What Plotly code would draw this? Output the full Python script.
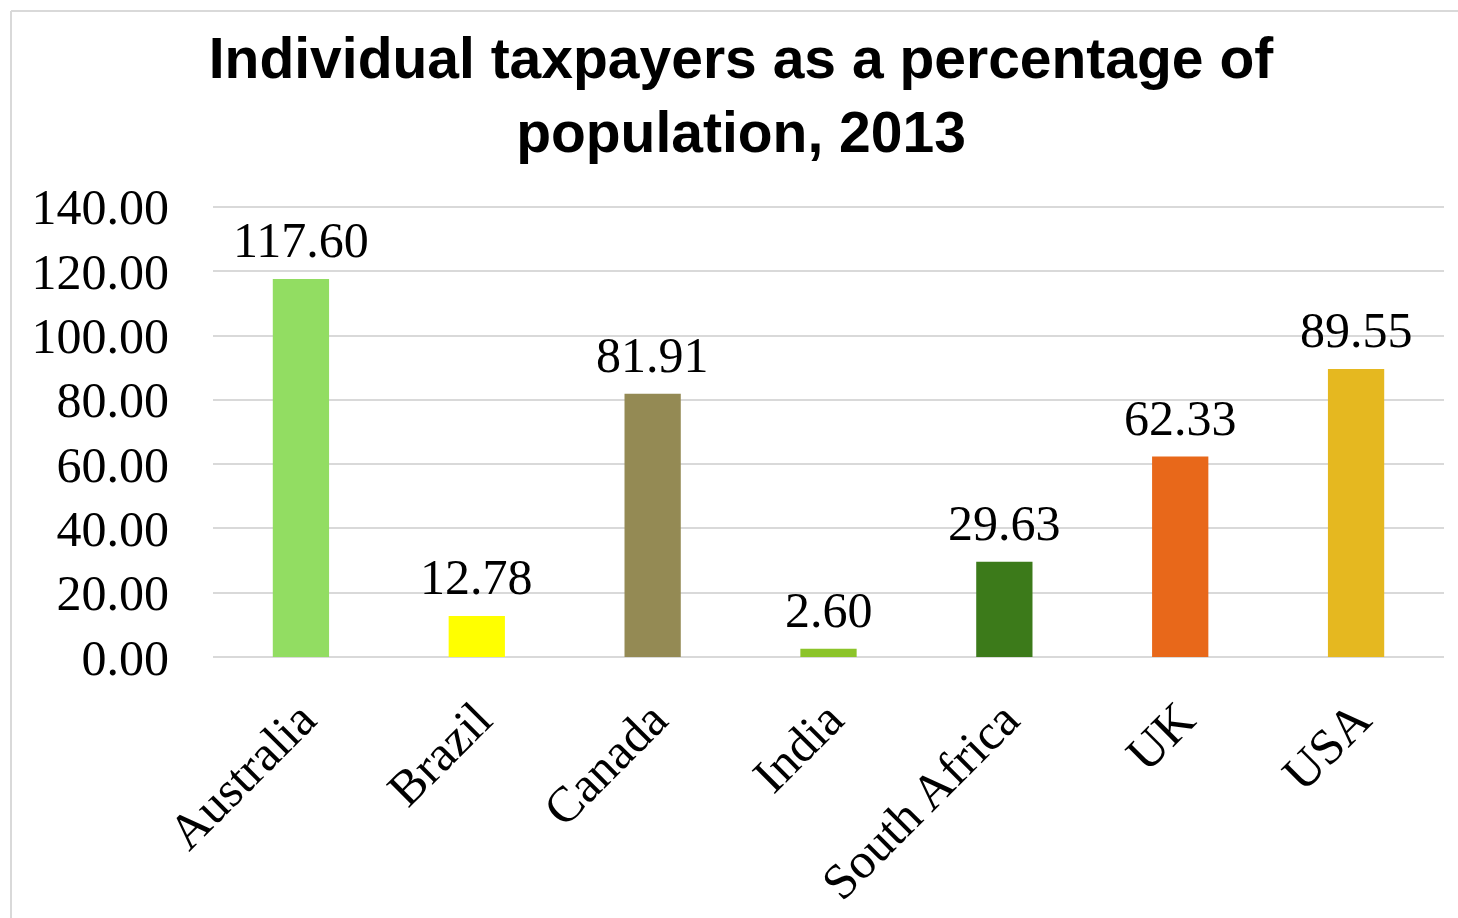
import plotly.graph_objects as go

countries = ["Australia", "Brazil", "Canada", "India", "South Africa", "UK", "USA"]
values = [117.60, 12.78, 81.91, 2.60, 29.63, 62.33, 89.55]
colors = ["#92DD62", "#FFFF00", "#948A54", "#8CC42A", "#3C7A1A", "#E8681A", "#E5B820"]
y_ticks = [0, 20, 40, 60, 80, 100, 120, 140]

W, H = 1458, 918
L, R, T, B = 213, 14, 205, 261
pw, ph = W - L - R, H - T - B

serif = "Liberation Serif, Times New Roman, serif"
FS = 50

fig = go.Figure(go.Bar(
    x=countries, y=values,
    marker=dict(color=colors, line=dict(width=0)),
    cliponaxis=False,
))

annotations = [
    dict(x=c, y=v, xref="x", yref="y", text=f"{v:.2f}", showarrow=False,
         xanchor="center", yanchor="bottom", yshift=9,
         font=dict(family=serif, size=FS, color="#000000"))
    for c, v in zip(countries, values)
]

def px_x(p):
    return (p - L) / pw

def px_y(p):
    return (H - B - p) / ph

fig.update_layout(
    width=W, height=H,
    margin=dict(l=L, r=R, t=T, b=B, autoexpand=False),
    paper_bgcolor="white", plot_bgcolor="white",
    bargap=0.68,
    showlegend=False,
    annotations=annotations,
    title=dict(
        text="Individual taxpayers as a percentage of<br>population, 2013",
        x=741 / W, xanchor="center", xref="container",
        y=1 - 78 / H, yanchor="top", yref="container",
        font=dict(family="Liberation Sans, Arial, sans-serif", size=57, color="#000000", weight="bold"),
    ),
    xaxis=dict(
        tickangle=-45, showgrid=False, showline=False, ticks="",
        automargin=False,
        ticklabelstandoff=22,
        tickfont=dict(family=serif, size=FS, color="#000000"),
    ),
    yaxis=dict(
        range=[0, 140.6], tickvals=y_ticks, tickformat=".2f",
        showgrid=True, gridcolor="#D9D9D9", gridwidth=2,
        zeroline=True, zerolinecolor="#D9D9D9", zerolinewidth=2,
        showline=False, ticks="", automargin=False,
        ticklabelstandoff=43,
        tickfont=dict(family=serif, size=FS, color="#000000"),
    ),
    shapes=[
        dict(type="line", xref="paper", yref="paper",
             x0=px_x(11), x1=px_x(11), y0=px_y(11), y1=px_y(H + 5),
             line=dict(color="#D9D9D9", width=2)),
        dict(type="line", xref="paper", yref="paper",
             x0=px_x(11), x1=px_x(W + 5), y0=px_y(11), y1=px_y(11),
             line=dict(color="#D9D9D9", width=2)),
    ],
)

fig.write_html("out.html")
